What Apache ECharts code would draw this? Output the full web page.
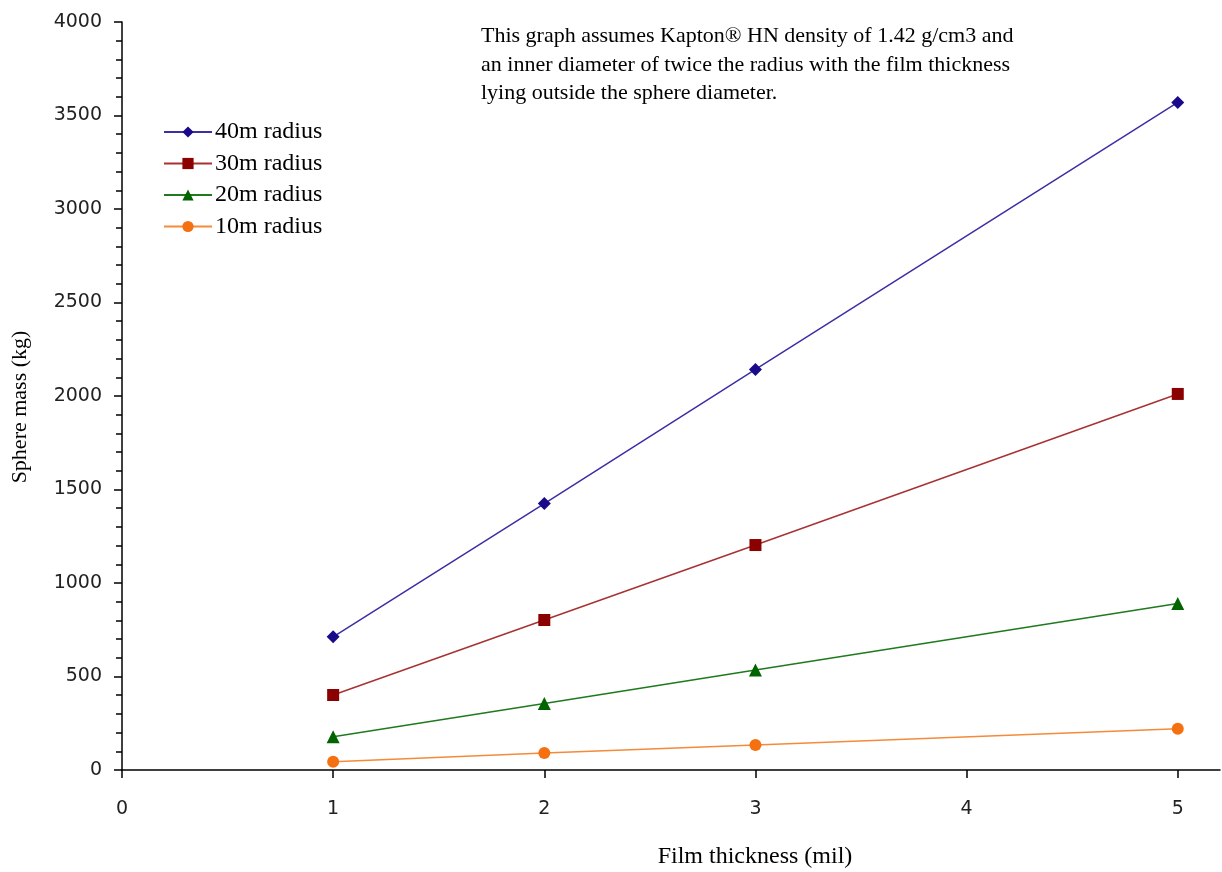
<!DOCTYPE html>
<html><head><meta charset="utf-8">
<script src="https://cdn.jsdelivr.net/npm/echarts@6/dist/echarts.min.js"></script>
<style>html,body{margin:0;padding:0;background:#fff}#c{width:1222px;height:872px}</style>
</head><body><div id="c"></div>
<script>
const thickness = [1, 2, 3, 5];
const r40 = [712, 1425, 2142, 3570];
const r30 = [401, 802, 1203, 2011];
const r20 = [178, 355, 535, 890];
const r10 = [44, 91, 134, 221];
const xTicks = [0, 1, 2, 3, 4, 5];
const seriesNames = ['40m radius', '30m radius', '20m radius', '10m radius'];
const note = 'This graph assumes Kapton\u00AE HN density of 1.42 g/cm3 and\nan inner diameter of twice the radius with the film thickness\nlying outside the sphere diameter.';

const font = '"Liberation Serif", "DejaVu Serif", serif';
const sans = '"DejaVu Sans", sans-serif';
const pairs = v => thickness.map((t, i) => [t, v[i]]);
const mk = (name, vals, color, lineColor, symbol, size) => ({
  name, type: 'line', data: pairs(vals), symbol, symbolSize: size,
  itemStyle: { color }, lineStyle: { color: lineColor, width: 1.5 },
  emphasis: { disabled: true }, animation: false
});
const chart = echarts.init(document.getElementById('c'));
chart.setOption({
  animation: false,
  grid: { left: 122, right: 2, top: 22, bottom: 102, containLabel: false },
  legend: {
    left: 158, top: 115, orient: 'vertical', itemWidth: 48, itemHeight: 14, itemGap: 7.5,
    textStyle: { fontFamily: font, fontSize: 24, color: '#000', padding: [0,0,0,-2] },
    data: seriesNames
  },
  xAxis: {
    type: 'value', min: 0, max: 5.2, interval: 1,
    axisLine: { lineStyle: { color: '#000', width: 1.5 } },
    axisTick: { show: true, length: 8, customValues: xTicks, lineStyle: { color: '#000', width: 1.5 } },
    axisLabel: { customValues: xTicks, fontFamily: sans, fontSize: 19, color: '#222', margin: 30 },
    splitLine: { show: false }
  },
  yAxis: {
    type: 'value', min: 0, max: 4000, interval: 500,
    axisLine: { show: true, lineStyle: { color: '#000', width: 1.5 } },
    axisTick: { show: true, inside: false, length: 8, lineStyle: { color: '#000', width: 1.5 } },
    minorTick: { show: true, splitNumber: 5, length: 6, lineStyle: { color: '#000', width: 1.5 } },
    axisLabel: { fontFamily: sans, fontSize: 19, color: '#222', margin: 20, formatter: v => String(v) },
    splitLine: { show: false }
  },
  graphic: [
    { type: 'text', left: 481, top: 22, style: { text: note, font: '22px ' + font, fill: '#000', lineHeight: 28.5 } },
    { type: 'text', x: 755, y: 857, style: { text: 'Film thickness (mil)', font: '24px ' + font, fill: '#000', align: 'center', verticalAlign: 'middle' } },
    { type: 'text', x: 20, y: 407, rotation: Math.PI / 2, style: { text: 'Sphere mass (kg)', font: '22px ' + font, fill: '#000', align: 'center', verticalAlign: 'middle' } }
  ],
  series: [
    mk(seriesNames[0], r40, '#1a0a8a', '#3b2fa6', 'diamond', 13),
    mk(seriesNames[1], r30, '#8b0000', '#a83232', 'rect', 12),
    mk(seriesNames[2], r20, '#006400', '#1f7a1f', 'triangle', 13),
    mk(seriesNames[3], r10, '#f57010', '#f58a3a', 'circle', 12)
  ]
});
</script></body></html>
